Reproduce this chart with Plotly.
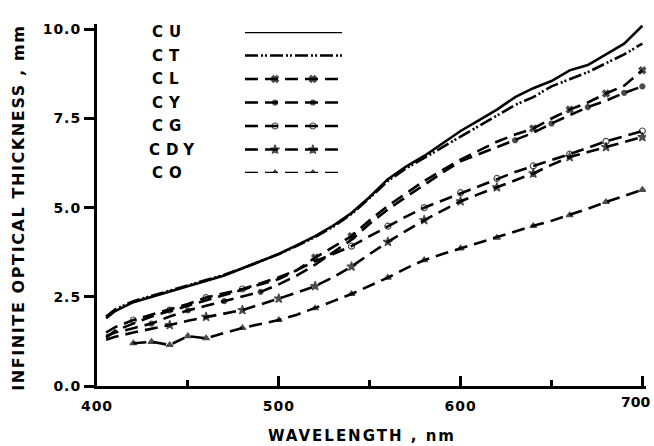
import plotly.graph_objects as go

# ---- data ----
wavelength = [405, 410, 420, 430, 440, 450, 460, 470, 480, 490, 500, 510, 520, 530, 540,
              550, 560, 570, 580, 590, 600, 610, 620, 630, 640, 650, 660, 670, 680, 690, 700]

cu = [1.90, 2.10, 2.35, 2.50, 2.65, 2.80, 2.95, 3.10, 3.30, 3.50, 3.70, 3.95, 4.20, 4.50, 4.85,
      5.30, 5.80, 6.15, 6.45, 6.80, 7.15, 7.45, 7.75, 8.10, 8.35, 8.55, 8.85, 9.00, 9.30, 9.60, 10.10]
ct = [1.95, 2.15, 2.38, 2.52, 2.67, 2.82, 2.97, 3.12, 3.30, 3.50, 3.70, 3.93, 4.18, 4.47, 4.82,
      5.27, 5.75, 6.10, 6.40, 6.70, 7.00, 7.30, 7.60, 7.88, 8.10, 8.40, 8.60, 8.80, 9.05, 9.30, 9.60]
cl = [1.35, 1.55, 1.75, 1.95, 2.10, 2.25, 2.40, 2.55, 2.70, 2.85, 3.00, 3.25, 3.60, 3.90, 4.20,
      4.65, 5.05, 5.40, 5.75, 6.05, 6.35, 6.60, 6.85, 7.05, 7.22, 7.50, 7.75, 7.95, 8.20, 8.42, 8.85]
cy = [1.40, 1.50, 1.62, 1.75, 1.95, 2.12, 2.25, 2.38, 2.50, 2.64, 2.85, 3.10, 3.40, 3.75, 4.10,
      4.55, 4.95, 5.30, 5.65, 5.98, 6.30, 6.50, 6.70, 6.89, 7.10, 7.36, 7.60, 7.82, 8.00, 8.22, 8.40]
cg = [1.50, 1.65, 1.85, 2.00, 2.13, 2.30, 2.48, 2.60, 2.72, 2.88, 3.05, 3.25, 3.50, 3.70, 3.92,
      4.20, 4.48, 4.75, 5.00, 5.20, 5.42, 5.62, 5.82, 6.00, 6.17, 6.33, 6.50, 6.68, 6.86, 7.00, 7.15]
cdy = [1.30, 1.38, 1.50, 1.60, 1.71, 1.83, 1.94, 2.03, 2.13, 2.28, 2.45, 2.62, 2.80, 3.05, 3.35,
       3.70, 4.04, 4.35, 4.65, 4.92, 5.18, 5.38, 5.57, 5.77, 5.96, 6.20, 6.42, 6.56, 6.70, 6.85, 6.98]
co = [None, None, 1.20, 1.24, 1.15, 1.40, 1.34, 1.48, 1.63, 1.74, 1.85, 2.00, 2.18, 2.38, 2.58,
      2.80, 3.04, 3.30, 3.53, 3.70, 3.86, 4.00, 4.16, 4.32, 4.49, 4.63, 4.79, 4.97, 5.16, 5.33, 5.50]

series_names = ["CU", "CT", "CL", "CY", "CG", "CDY", "CO"]
series_values = [cu, ct, cl, cy, cg, cdy, co]

# wavelengths where symbols are drawn on each curve
marker_wl = {
    "CU": [],
    "CT": [],
    "CL": [520, 540, 640, 660, 680, 700],
    "CY": [430, 450, 470, 490, 630, 650, 670, 690, 700],
    "CG": [420, 440, 460, 480, 540, 560, 580, 600, 620, 640, 660, 680, 700],
    "CDY": [440, 460, 480, 500, 520, 540, 560, 580, 600, 620, 640, 660, 680, 700],
    "CO": [420, 430, 440, 450, 460, 480, 500, 520, 540, 560, 580, 600, 620, 640, 660, 680, 700],
}

x_ticks = [400, 500, 600, 700]
x_minor_ticks = [450, 550, 650]
y_ticks = [0.0, 2.5, 5.0, 7.5, 10.0]

# ---- styles ----
styles = {
    "CU": dict(dash="solid", symbol="circle", size=0),
    "CT": dict(dash="13px,3px,2px,2px,2px,3px", symbol="circle", size=0),
    "CL": dict(dash="13px,7px", symbol="x", size=6),
    "CY": dict(dash="13px,7px", symbol="circle", size=5),
    "CG": dict(dash="13px,7px", symbol="circle-open", size=6),
    "CDY": dict(dash="13px,7px", symbol="star", size=7),
    "CO": dict(dash="13px,7px", symbol="triangle-up", size=6),
}

FONT = "DejaVu Sans"
fig = go.Figure()

for name, vals in zip(series_names, series_values):
    st = styles[name]
    sizes = [st["size"] if w in marker_wl[name] else 0 for w in wavelength]
    fig.add_trace(go.Scatter(
        x=wavelength, y=vals, mode="lines+markers", name=name, showlegend=False,
        line=dict(color="black", width=2.6, dash=st["dash"]),
        marker=dict(symbol=st["symbol"], size=sizes, color="black",
                    line=dict(color="black", width=1.2)),
    ))

# ---- custom legend (text left, sample line right) on a hidden axis pair ----
for i, name in enumerate(series_names):
    st = styles[name]
    fig.add_trace(go.Scatter(
        x=[0, 0.31, 0.70, 1], y=[i, i, i, i], mode="lines+markers", showlegend=False,
        xaxis="x2", yaxis="y2", hoverinfo="skip",
        line=dict(color="black", width=2.6, dash=st["dash"]),
        marker=dict(symbol=st["symbol"], size=[0, st["size"], st["size"], 0], color="black",
                    line=dict(color="black", width=1.2)),
    ))
    fig.add_annotation(x=0, y=i, xref="x2", yref="y2", text="<b>" + name + "</b>",
                       showarrow=False, xanchor="left", yanchor="middle",
                       xshift=-89, font=dict(family=FONT, size=15, color="black"),
                       name="legendlabel")

L, R, T, B = 97, 8, 24, 60
W, H = 654, 446
plot_w = W - L - R
plot_h = H - T - B

def px_x(p):
    return (p - L) / plot_w

def px_y(p):
    return (H - B - p) / plot_h

# the last x tick label sits on the page edge, plotly would drop it -> draw it as annotation
x_ticktext = [f"<b>{v}</b>" if v != x_ticks[-1] else "" for v in x_ticks]

fig.update_layout(
    template="none",
    width=W, height=H,
    margin=dict(l=L, r=R, t=T, b=B, pad=0),
    paper_bgcolor="white", plot_bgcolor="white",
    font=dict(family=FONT, color="black", size=14),
    xaxis=dict(range=[400, 702], tickvals=x_ticks, ticktext=x_ticktext,
               showline=True, linecolor="black", linewidth=3, ticks="inside",
               ticklen=10, tickwidth=3, tickcolor="black", showgrid=False, zeroline=False,
               automargin=False, ticklabelstandoff=5, tickfont=dict(family=FONT, size=14),
               minor=dict(tickvals=x_minor_ticks, ticks="inside", ticklen=6,
                          tickwidth=3, tickcolor="black", showgrid=False)),
    yaxis=dict(range=[0, 10.15], tickvals=y_ticks, ticktext=[f"<b>{v:.1f}</b>" for v in y_ticks],
               showline=True, linecolor="black", linewidth=3, ticks="outside",
               ticklen=10, tickwidth=3, tickcolor="black", showgrid=False, zeroline=False,
               automargin=False, tickfont=dict(family=FONT, size=14)),
    xaxis2=dict(domain=[px_x(245), px_x(342)], range=[0, 1], anchor="y2",
                visible=False, fixedrange=True),
    yaxis2=dict(domain=[px_y(173), px_y(32)], range=[6, 0], anchor="x2",
                visible=False, fixedrange=True),
    showlegend=False,
)

fig.add_annotation(x=px_x(652), y=0, xref="paper", yref="paper", text=f"<b>{x_ticks[-1]}</b>",
                   showarrow=False, xanchor="right", yanchor="top", yshift=-6,
                   font=dict(family=FONT, size=14, color="black"), name="xlast")
fig.add_annotation(x=px_x(362), y=px_y(436), xref="paper", yref="paper",
                   text="<b>WAVELENGTH , nm</b>", showarrow=False,
                   xanchor="center", yanchor="middle",
                   font=dict(family=FONT, size=15, color="black"), name="xtitle")
fig.add_annotation(x=px_x(18), y=px_y(208), xref="paper", yref="paper",
                   text="<b>INFINITE OPTICAL THICKNESS , mm</b>", showarrow=False,
                   textangle=-90, xanchor="center", yanchor="middle",
                   font=dict(family=FONT, size=16, color="black"), name="ytitle")

post = """
document.body.style.margin = '0';
document.documentElement.style.overflow = 'hidden';
document.body.style.overflow = 'hidden';
function spacing(){
  document.querySelectorAll('.xtick text, .ytick text').forEach(function(t){ t.style.letterSpacing = '1px'; });
  var anns = document.querySelectorAll('.annotation-text');
  anns.forEach(function(t){
    var s = t.textContent;
    if (s.indexOf('INFINITE') === 0) { t.style.letterSpacing = '1.6px'; }
    else if (s.indexOf('WAVELENGTH') === 0) { t.style.letterSpacing = '2px'; }
    else if (/^[0-9]+$/.test(s)) { t.style.letterSpacing = '0px'; }
    else { t.style.letterSpacing = '6px'; }
  });
}
spacing();
"""

fig.write_html("out.html", post_script=post, config={"displayModeBar": False})
